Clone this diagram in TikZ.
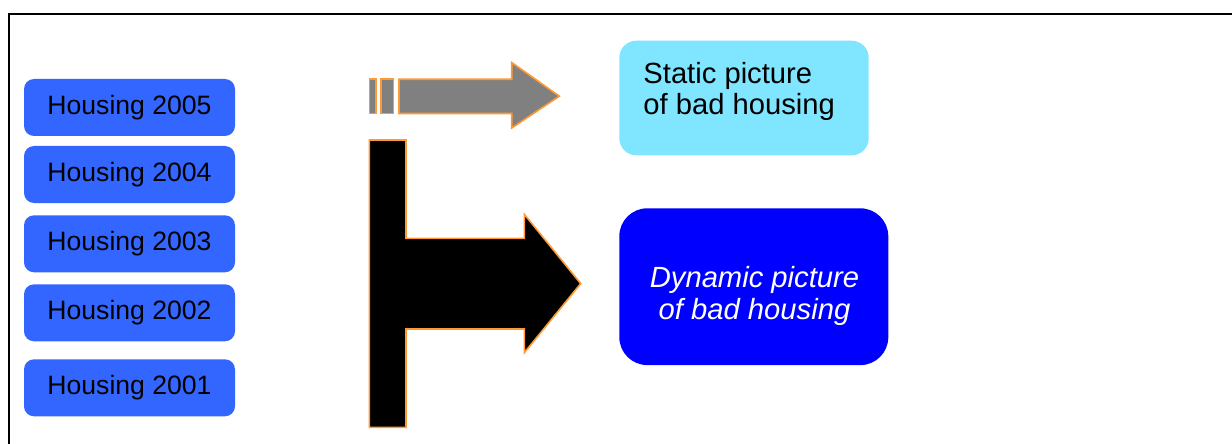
\documentclass[tikz,border=0pt]{standalone}
\usepackage{fontspec}
\setmainfont{Liberation Sans}
\usepackage{tikz}
\usetikzlibrary{positioning}
\definecolor{housingblue}{RGB}{51,102,255}
\definecolor{staticcyan}{RGB}{128,229,255}
\definecolor{dynblue}{RGB}{0,0,255}
\definecolor{arrowgray}{RGB}{128,128,128}
\definecolor{edgeorange}{RGB}{255,153,51}
\tikzstyle{housing} = [rectangle, rounded corners=5pt, minimum width=105.5pt, minimum height=28.5pt, text centered, fill=housingblue, font=\fontsize{13.3}{15}\selectfont]
\tikzstyle{staticbox} = [rectangle, rounded corners=8.5pt, minimum width=124.7pt, minimum height=57.3pt, fill=staticcyan]
\tikzstyle{dynbox} = [rectangle, rounded corners=14pt, minimum width=134.5pt, minimum height=78.4pt, fill=dynblue]
\tikzstyle{bigtext} = [inner sep=0pt, font=\fontsize{14.6}{15.9}\selectfont]
\tikzstyle{blockarrow} = [draw=edgeorange, line width=0.8pt, line join=miter]
\def\hx{129.5}

\begin{document}
\begin{tikzpicture}[x=0.5pt, y=-0.5pt]
\useasboundingbox (0,0) rectangle (1232,444);
\draw [line width=1pt] (9.3,444) -- (9.3,14.3) -- (1232,14.3);

% yearly housing data
\node (h2005) [housing] at (\hx,107.5) {Housing 2005};
\node (h2004) [housing] at (\hx,174.5) {Housing 2004};
\node (h2003) [housing] at (\hx,243.8) {Housing 2003};
\node (h2002) [housing] at (\hx,312.8) {Housing 2002};
\node (h2001) [housing] at (\hx,387.8) {Housing 2001};

% results
\node (static) [staticbox] at (744,98) {};
\node (statictext) [bigtext, anchor=west, align=left] at (643,91.5) {Static picture\\of bad housing};
\node (dynamic) [dynbox] at (753.8,286.7) {};
\node (dynamictext) [bigtext, align=center, text=white, font=\fontsize{14.6}{15.9}\selectfont\itshape] at (754.5,296) {Dynamic picture\\of bad housing};

% single year arrow
\fill [blockarrow, fill=arrowgray] (369.3,79.3) rectangle (375.7,113.5);
\fill [blockarrow, fill=arrowgray] (381,79.3) rectangle (393.3,113.5);
\fill [blockarrow, fill=arrowgray] (399,79.3) -- (511.7,79.3) -- (511.7,62.5) -- (559.3,96.2)
  -- (511.7,128) -- (511.7,113.5) -- (399,113.5) -- cycle;

% all years arrow
\fill [blockarrow, fill=black] (369.3,140) -- (406,140) -- (406,238.3) -- (524.3,238.3)
  -- (524.3,214.3) -- (580.7,283.6) -- (524.3,352.7) -- (524.3,329) -- (406,329)
  -- (406,427.3) -- (369.3,427.3) -- cycle;

\end{tikzpicture}
\end{document}
